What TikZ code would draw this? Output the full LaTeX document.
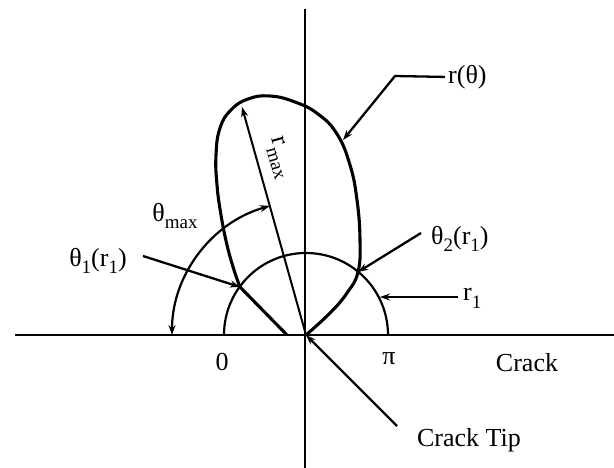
\documentclass[tikz,border=0pt]{standalone}
\usepackage{fontspec}
\setmainfont{Liberation Serif}
\usetikzlibrary{arrows.meta}
\newcommand\subs[1]{\raisebox{-0.3em}{\fontsize{19}{19}\selectfont #1}}
\begin{document}
\begin{tikzpicture}[x=1pt,y=-1pt,
  lbl/.style={font=\fontsize{26}{28}\selectfont, inner sep=0pt},
  tip/.style={-{Stealth[length=10pt,width=7pt]}},
  lead/.style={line width=2.3pt, tip},
  axis/.style={line width=1.3pt},
  crack/.style={line width=2.6pt},
  lobe/.style={line width=3.1pt, line join=round},
  arcline/.style={line width=2.2pt}]
\useasboundingbox (0,0) rectangle (614,468);
% key points
\coordinate (O) at (306,335);
\coordinate (axL) at (15,335);
\coordinate (axR) at (614,335);
\coordinate (axT) at (305,9);
\coordinate (axB) at (305,468);
\coordinate (T1) at (240,287);
\coordinate (T2) at (358,272);
\coordinate (P) at (343,140);
\coordinate (R1) at (380,297);
\coordinate (Rtop) at (242,107);
\coordinate (L0) at (287,335);
% axes
\draw[axis] (axT) -- (axB);
\draw[crack] (axL) -- (axR);
% small semicircle r1
\draw[arcline] (O) ++(180:82) arc[start angle=180, end angle=360, radius=82];
% theta max arc
\draw[arcline, {Stealth[length=10pt,width=7pt]}-{Stealth[length=10pt,width=7pt]}]
  (O) ++(180:134) arc[start angle=180, end angle=254.4, radius=134];
% r max line
\draw[line width=2pt, tip] (O) -- (Rtop);
% lobe r(theta)
\draw[lobe] plot[smooth, tension=0.75] coordinates {(306,335) (330,313) (347,293) (358,272) (360,240) (357,200) (350,165) (337,134) (318,114) (295,102) (270,96) (248,99) (231,110) (220,128) (216,155) (217,185) (221,215) (227,245) (234,270) (240,287)} -- (L0);
% labels
\node[lbl, anchor=west] (rt) at (448,77) {r(θ)};
\coordinate (rtK) at (395,76);
\draw[lead, shorten <=3pt] (rt.west) -- (rtK) -- (P);
\node[lbl, anchor=west] (t2) at (431,239) {θ\subs{2}(r\subs{1})};
\coordinate (t2s) at (421,233);
\draw[lead] (t2s) -- (T2);
\node[lbl, anchor=west] (r1) at (463,298) {r\subs{1}};
\coordinate (r1s) at (458,297);
\draw[lead] (r1s) -- (R1);
\node[lbl] (t1) at (98,261) {θ\subs{1}(r\subs{1})};
\coordinate (t1s) at (143,256);
\draw[lead] (t1s) -- (T1);
\node[lbl] (tmax) at (175,216) {θ\subs{max}};
\node[lbl, rotate=-74] (rmax) at (279,158) {r\subs{max}};
\node[lbl] (zero) at (222,362) {0};
\node[lbl] (pi) at (389,359) {π};
\node[lbl] (crk) at (527,363) {Crack};
\node[lbl] (ctip) at (469,440) {Crack Tip};
\coordinate (cts) at (397,426);
\draw[lead] (cts) -- (O);
\end{tikzpicture}
\end{document}
